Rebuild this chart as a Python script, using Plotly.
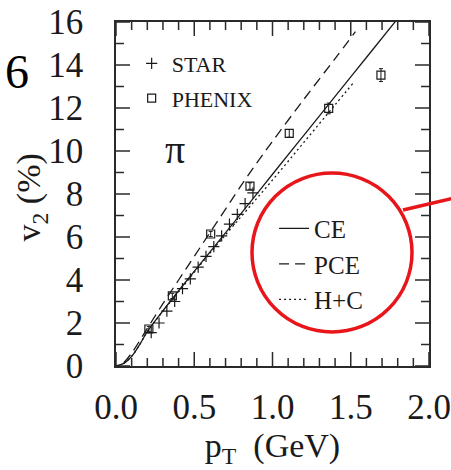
import plotly.graph_objects as go

# ---------------- data ----------------
star_pt = [0.225, 0.275, 0.325, 0.375, 0.425, 0.475, 0.525, 0.575, 0.625, 0.675, 0.725, 0.775, 0.825, 0.875]
star_v2 = [1.55, 2.0, 2.55, 3.0, 3.6, 4.05, 4.6, 5.1, 5.55, 6.05, 6.6, 7.05, 7.55, 8.05]

phenix_pt = [0.21, 0.36, 0.605, 0.856, 1.107, 1.359, 1.693]
phenix_v2 = [1.72, 3.26, 6.14, 8.37, 10.82, 11.98, 13.53]
phenix_err = [0.12, 0.12, 0.12, 0.15, 0.18, 0.25, 0.3]

ce_pt = [0, 0.05, 0.1, 0.15, 0.2, 0.3, 0.4, 0.6, 0.8, 1.0, 1.2, 1.4, 1.6, 1.8]
ce_v2 = [0, 0.12, 0.45, 0.98, 1.6, 2.57, 3.5, 5.3, 7.1, 8.92, 10.73, 12.54, 14.35, 16.16]

pce_pt = [0.05, 0.1, 0.2, 0.3, 0.4, 0.5, 0.6, 0.7, 0.8, 0.9, 1.0, 1.2, 1.4, 1.53]
pce_v2 = [0.15, 0.6, 1.75, 2.9, 4.0, 5.1, 6.2, 7.3, 8.4, 9.45, 10.45, 12.4, 14.3, 15.55]

hc_pt = [0.05, 0.1, 0.15, 0.2, 0.3, 0.4, 0.6, 0.8, 1.0, 1.2, 1.4, 1.52]
hc_v2 = [0.12, 0.45, 0.98, 1.6, 2.55, 3.45, 5.25, 6.95, 8.65, 10.4, 12.15, 13.2]

x_range = [0, 2.0]
y_range = [0, 16]
x_tick_step = 0.5
x_minor_step = 0.1
y_tick_step = 2
y_minor_step = 1

SERIF = "Liberation Serif"
INK = "#1a1a1a"
AX = "#2a2a2a"
RED = "#e8151b"

W, H = 451, 470
M_L, M_R, M_T, M_B = 116, 22, 22, 104
PLOT_W = W - M_L - M_R
PLOT_H = H - M_T - M_B

fig = go.Figure()

# ---- tick marks (inside, all four sides) drawn as line traces ----
def _steps(lo, hi, step):
    n = int(round((hi - lo) / step))
    return [round(lo + i * step, 6) for i in range(n + 1)]

x_major = _steps(x_range[0], x_range[1], x_tick_step)
y_major = _steps(y_range[0], y_range[1], y_tick_step)
yspan = y_range[1] - y_range[0]
xspan = x_range[1] - x_range[0]
tx, ty = [], []
for xv in _steps(x_range[0], x_range[1], x_minor_step):
    major = any(abs(xv - m) < 1e-6 for m in x_major)
    ln = (14 if major else 8) / PLOT_H * yspan
    tx += [xv, xv, None, xv, xv, None]
    ty += [y_range[0], y_range[0] + ln, None, y_range[1], y_range[1] - ln, None]
for yv in _steps(y_range[0], y_range[1], y_minor_step):
    major = any(abs(yv - m) < 1e-6 for m in y_major)
    ln = (14 if major else 8) / PLOT_W * xspan
    tx += [x_range[0], x_range[0] + ln, None, x_range[1], x_range[1] - ln, None]
    ty += [yv, yv, None, yv, yv, None]
fig.add_trace(go.Scatter(x=tx, y=ty, mode="lines", line=dict(color=AX, width=1.5),
                         showlegend=False, hoverinfo="skip", connectgaps=False))

fig.add_trace(go.Scatter(
    x=star_pt, y=star_v2, mode="markers", name="STAR",
    marker=dict(symbol="cross-thin-open", size=8, color=INK, line=dict(color=INK, width=1.2)),
    legend="legend", legendgroup="a"))
fig.add_trace(go.Scatter(
    x=phenix_pt, y=phenix_v2, mode="markers", name="PHENIX",
    error_y=dict(type="data", array=phenix_err, color=INK, thickness=1, width=2),
    marker=dict(symbol="square-open", size=8, color=INK, line=dict(color=INK, width=1.2)),
    legend="legend", legendgroup="b"))

fig.add_trace(go.Scatter(
    x=ce_pt, y=ce_v2, mode="lines", name="CE", line_shape="spline",
    line=dict(color=INK, width=1.3), legend="legend2", legendgroup="c"))
fig.add_trace(go.Scatter(
    x=pce_pt, y=pce_v2, mode="lines", name="PCE", line_shape="spline",
    line=dict(color=INK, width=1.3, dash="10px,6px"), legend="legend2", legendgroup="d"))
fig.add_trace(go.Scatter(
    x=hc_pt, y=hc_v2, mode="lines", name="H+C", line_shape="spline",
    line=dict(color=INK, width=1.3, dash="2px,3px"), legend="legend2", legendgroup="e"))

fig.update_layout(
    xaxis=dict(
        range=x_range, tickmode="linear", tick0=0, dtick=x_tick_step, tickformat=".1f",
        showline=True, linecolor=AX, linewidth=1.5, mirror=True, automargin=False,
        ticks="", showgrid=False, zeroline=False, ticklabelstandoff=9,
        tickfont=dict(family=SERIF, size=35, color=INK),
        title=dict(text="p<sub>T</sub>  (GeV)", font=dict(family=SERIF, size=34, color=INK), standoff=0),
    ),
    yaxis=dict(
        range=y_range, tickmode="linear", tick0=0, dtick=y_tick_step,
        showline=True, linecolor=AX, linewidth=1.5, mirror=True, automargin=False,
        ticks="", showgrid=False, zeroline=False, ticklabelstandoff=24,
        tickfont=dict(family=SERIF, size=35, color=INK),
    ),
)

shapes = [
    dict(type="circle", xref="paper", yref="paper",
         x0=0.4345, x1=0.9457, y0=0.0988, y1=0.561,
         fillcolor="rgba(0,0,0,0)", opacity=1,
         line=dict(color=RED, width=3.5), layer="above"),
    dict(type="line", xref="paper", yref="paper",
         x0=0.917, y0=0.4535, x1=1.12, y1=0.497, opacity=1,
         line=dict(color=RED, width=3.5), layer="above"),
]

fig.update_layout(
    width=W, height=H,
    margin=dict(l=M_L, r=M_R, t=M_T, b=M_B, autoexpand=False),
    paper_bgcolor="white", plot_bgcolor="white",
    legend=dict(x=0.05, y=0.94, xanchor="left", yanchor="top",
                bgcolor="rgba(0,0,0,0)", tracegroupgap=3,
                font=dict(family=SERIF, size=22, color=INK)),
    legend2=dict(x=0.505, y=0.466, xanchor="left", yanchor="top",
                 bgcolor="rgba(0,0,0,0)", tracegroupgap=0,
                 font=dict(family=SERIF, size=25, color=INK)),
    annotations=[
        dict(text="v<sub>2</sub> (%)", textangle=-90, xref="paper", yref="paper",
             x=-0.27, y=0.491, xanchor="center", yanchor="middle", showarrow=False,
             font=dict(family=SERIF, size=34, color=INK)),
        dict(text="π", xref="x", yref="y", x=0.38, y=10.05, showarrow=False,
             font=dict(family=SERIF, size=40, color=INK)),
        dict(text="6", xref="paper", yref="paper", x=-0.27, y=0.855,
             xanchor="right", yanchor="middle", showarrow=False,
             font=dict(family=SERIF, size=48, color="black")),
    ],
    shapes=shapes,
)

fig.write_html("out.html")
